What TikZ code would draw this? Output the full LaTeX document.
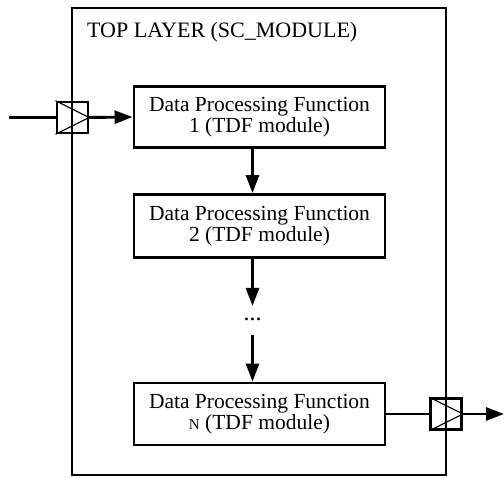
\documentclass[tikz,border=0pt]{standalone}
\usepackage{fontspec}
\setmainfont{Liberation Serif}
\usetikzlibrary{arrows.meta}
\begin{document}
\begin{tikzpicture}[x=1pt,y=-1pt,
  thickline/.style={line width=2.9pt},
  fbox/.style={draw,line width=2.9pt,minimum width=251pt,minimum height=61pt,align=center,inner sep=0pt,font=\fontsize{21.5}{21.5}\selectfont},
  flow/.style={line width=2.9pt,-{Triangle[length=18pt,width=13pt]}},
  port/.style={draw,line width=2.6pt,minimum size=31pt,inner sep=0pt}
]
\useasboundingbox (0,0) rectangle (504,478);
% outer module
\node[draw,line width=2.9pt,minimum width=374pt,minimum height=467pt,inner sep=0pt] (top) at (259,241.5) {};
\node[anchor=base west,inner sep=0pt,font=\fontsize{22}{22}\selectfont] (title) at (87,38) {TOP LAYER (SC\_MODULE)};
% function blocks
\node[fbox] (f1) at (259.5,117) {Data Processing Function\\1 (TDF module)};
\node[fbox,minimum height=63pt] (f2) at (259.5,226) {Data Processing Function\\2 (TDF module)};
\node[fbox,minimum height=62pt] (fn) at (259.5,414) {Data Processing Function\\{\fontsize{15}{15}\selectfont N} (TDF module)};
\coordinate (ax) at (252.5,0);
\node[inner sep=0pt,font=\fontsize{24}{24}\selectfont] (dots) at (252.5,319) {...};
\coordinate (d1) at (252.5,306);
\coordinate (d2) at (252.5,335);
% ports
\node[port] (pin) at (72.3,117.5) {};
\node[port] (pout) at (446,414) {};
\draw[line width=1.1pt] (pin.north west) -- (pin.east) -- (pin.south west);
\draw[line width=1.1pt] (pout.north west) -- (pout.east) -- (pout.south west);
\coordinate (src) at (9,117.5);
\coordinate (dst) at (504,414);
% connectors
\draw[thickline] (src) -- (pin.west);
\draw[flow] (pin.east) -- (f1.west);
\draw[flow] (f1.south -| ax) -- (f2.north -| ax);
\draw[flow] (f2.south -| ax) -- (d1);
\draw[flow] (d2) -- (fn.north -| ax);
\draw[thickline] (fn.east) -- (pout.west);
\draw[flow] (pout.east) -- (dst);
\end{tikzpicture}
\end{document}
